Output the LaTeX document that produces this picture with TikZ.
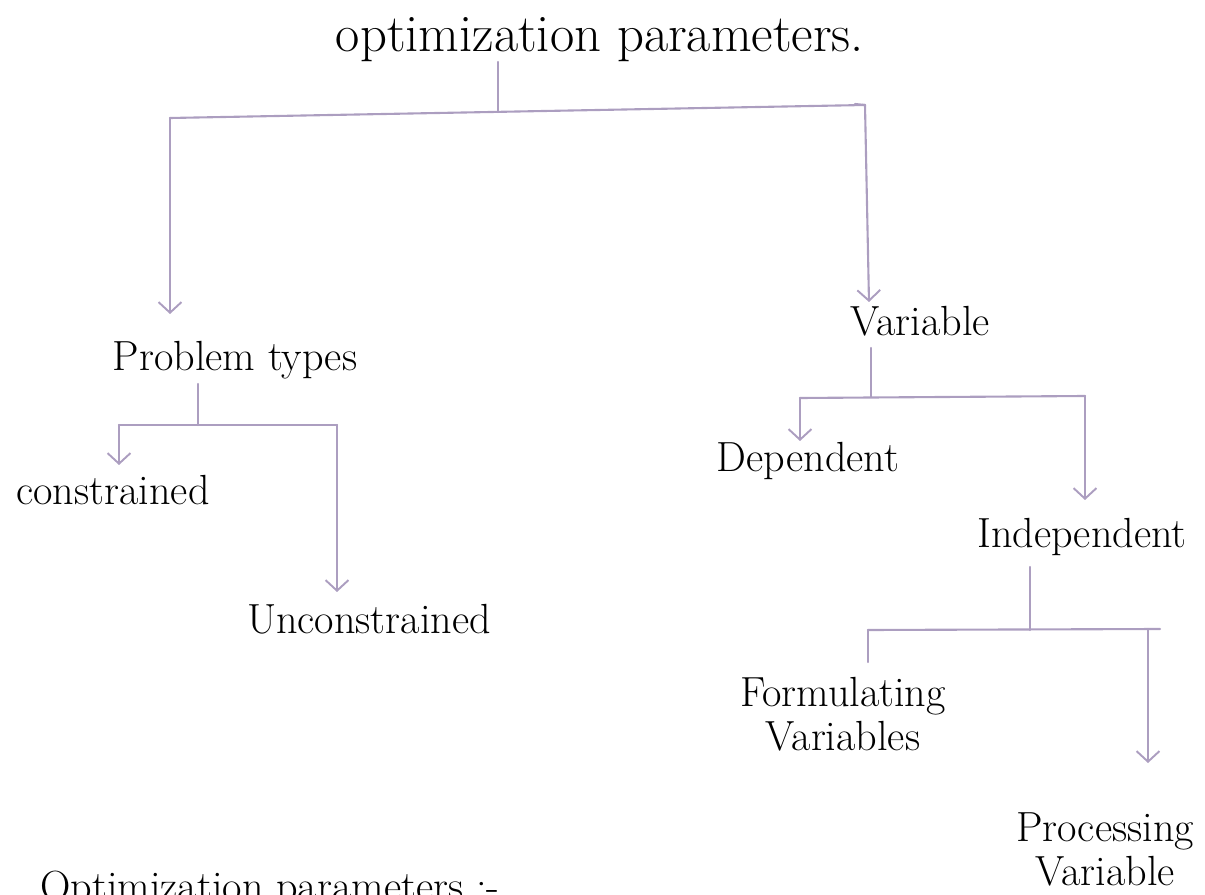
\documentclass[tikz,border=0pt]{standalone}
\usetikzlibrary{arrows.meta}
\definecolor{pencil}{RGB}{172,158,192}
\begin{document}
\begin{tikzpicture}[x=0.02cm,y=-0.02cm,
  lbl/.style={inner sep=0pt,font=\fontsize{24}{24.5}\selectfont,text=black},
  conn/.style={draw=pencil,line width=1.2pt,line cap=round},
  arr/.style={conn,-{Straight Barb[length=6pt,width=13pt,line width=1.1pt]}}]
\useasboundingbox (0,0) rectangle (1205,895);
% texts
\node[lbl,anchor=base,font=\fontsize{30}{31}\selectfont] (title) at (600,52) {optimization parameters.};
\node[lbl,anchor=base] (prob) at (235,371) {Problem types};
\node[lbl,anchor=base] (con) at (113,505) {constrained};
\node[lbl,anchor=base] (uncon) at (369,633) {Unconstrained};
\node[lbl,anchor=base] (var) at (920,336) {Variable};
\node[lbl,anchor=base] (dep) at (808,472) {Dependent};
\node[lbl,anchor=base] (indep) at (1082,548) {Independent};
\node[lbl,anchor=base,align=center] (form) at (843,750) {Formulating\\Variables};
\node[lbl,anchor=base,align=center] (proc) at (1105,885) {Processing\\Variable};
\node[lbl,anchor=base west] (bottom) at (40,900) {Optimization parameters :-};
% coordinates
\coordinate (a0) at (498,62);
\coordinate (a1) at (498,112);
\coordinate (aL) at (170,118);
\coordinate (aR) at (865,105);
\coordinate (aRh) at (855,104);
\coordinate (aLt) at (170,314);
\coordinate (aRt) at (869,302);
\coordinate (p0) at (198,384);
\coordinate (p1) at (198,425);
\coordinate (pL) at (119,425);
\coordinate (pR) at (337,425);
\coordinate (pLt) at (119,465);
\coordinate (pRt) at (337,592);
\coordinate (v0) at (871,348);
\coordinate (v1) at (871,397);
\coordinate (vL) at (800,398);
\coordinate (vR) at (1085,396);
\coordinate (vLt) at (800,441);
\coordinate (vRt) at (1085,500);
\coordinate (i0) at (1030,567);
\coordinate (i1) at (1030,630);
\coordinate (iL) at (868,630);
\coordinate (iE) at (1160,629);
\coordinate (iR) at (1148,629);
\coordinate (iLt) at (868,662);
\coordinate (iRt) at (1148,763);
% connectors
\draw[conn] (a0) -- (a1);
\draw[conn] (aL) -- (aR);
\draw[conn] (aRh) -- (aR);
\draw[arr] (aL) -- (aLt);
\draw[arr] (aR) -- (aRt);
\draw[conn] (p0) -- (p1);
\draw[conn] (pL) -- (pR);
\draw[arr] (pL) -- (pLt);
\draw[arr] (pR) -- (pRt);
\draw[conn] (v0) -- (v1);
\draw[conn] (vL) -- (vR);
\draw[arr] (vL) -- (vLt);
\draw[arr] (vR) -- (vRt);
\draw[conn] (i0) -- (i1);
\draw[conn] (iL) -- (iE);
\draw[conn] (iL) -- (iLt);
\draw[arr] (iR) -- (iRt);
\end{tikzpicture}
\end{document}
